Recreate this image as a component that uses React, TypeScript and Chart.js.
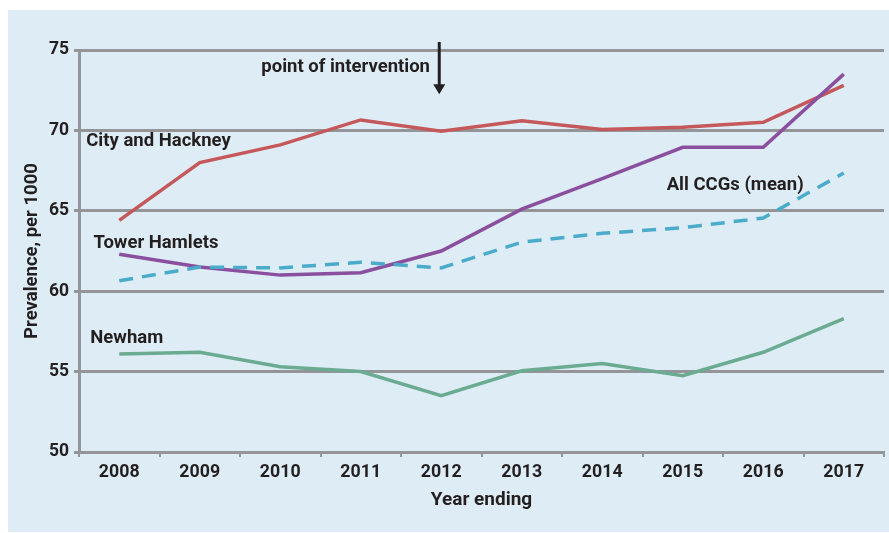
import React, { useEffect, useRef } from "react";
import { Chart, registerables } from "chart.js";

Chart.register(...registerables);

const years = ["2008", "2009", "2010", "2011", "2012", "2013", "2014", "2015", "2016", "2017"];
const cityHackney = [64.4, 68.0, 69.1, 70.65, 69.95, 70.6, 70.05, 70.2, 70.5, 72.8];
const towerHamlets = [62.3, 61.5, 61.0, 61.15, 62.5, 65.1, 67.0, 68.95, 68.95, 73.5];
const allCCGs = [60.65, 61.5, 61.45, 61.8, 61.45, 63.05, 63.6, 63.95, 64.55, 67.35];
const newham = [56.1, 56.2, 55.3, 55.0, 53.5, 55.05, 55.5, 54.75, 56.2, 58.3];

const yMin = 50;
const yMax = 75;
const yStep = 5;

const TEXT = "#231f20";
const GRID = "#939598";
const FONT = "Roboto";

const seriesLabels = ["City and Hackney", "Tower Hamlets", "All CCGs (mean)", "Newham"];
const interventionText = "point of intervention";
const interventionIndex = 4;

// annotation anchors in data coordinates (category index, value)
const labelAnchors = [
  { text: seriesLabels[0], x: -0.41, y: 69.3, align: "left" },
  { text: seriesLabels[1], x: -0.32, y: 63.0, align: "left" },
  { text: seriesLabels[3], x: -0.36, y: 57.05, align: "left" },
  { text: seriesLabels[2], x: 6.8, y: 66.6, align: "left" },
  { text: interventionText, x: 3.86, y: 73.9, align: "right" },
];
const arrowFrom = 75.5;
const arrowTo = 72.25;

const annotationPlugin = {
  id: "annotations",
  afterDatasetsDraw(chart: any) {
    const { ctx, scales } = chart;
    const xs = scales.x;
    const ys = scales.y;
    ctx.save();
    ctx.fillStyle = TEXT;
    ctx.font = `bold 18.5px ${FONT}`;
    ctx.textBaseline = "middle";
    labelAnchors.forEach((l) => {
      ctx.textAlign = l.align as CanvasTextAlign;
      ctx.fillText(l.text, xs.getPixelForValue(l.x), ys.getPixelForValue(l.y));
    });
    const ax = xs.getPixelForValue(interventionIndex) - 2;
    const y0 = ys.getPixelForValue(arrowFrom);
    const y1 = ys.getPixelForValue(arrowTo);
    ctx.strokeStyle = TEXT;
    ctx.lineWidth = 3;
    ctx.beginPath();
    ctx.moveTo(ax, y0);
    ctx.lineTo(ax, y1 - 8);
    ctx.stroke();
    ctx.beginPath();
    ctx.moveTo(ax - 6, y1 - 10);
    ctx.lineTo(ax + 6, y1 - 10);
    ctx.lineTo(ax, y1);
    ctx.closePath();
    ctx.fill();
    ctx.restore();
  },
};

export default function App() {
  const ref = useRef<HTMLCanvasElement | null>(null);
  useEffect(() => {
    document.documentElement.style.overflow = "hidden";
    const canvas = ref.current;
    if (!canvas) return;
    const chart = new Chart(canvas, {
      type: "line",
      data: {
        labels: years,
        datasets: [
          {
            label: seriesLabels[2],
            data: allCCGs,
            borderColor: "#4aabcb",
            borderWidth: 3.5,
            borderDash: [14, 9],
            pointRadius: 0,
            tension: 0,
          },
          {
            label: seriesLabels[1],
            data: towerHamlets,
            borderColor: "#8a4f9e",
            borderWidth: 3.5,
            pointRadius: 0,
            tension: 0,
          },
          {
            label: seriesLabels[0],
            data: cityHackney,
            borderColor: "#c4585a",
            borderWidth: 3.5,
            pointRadius: 0,
            tension: 0,
          },
          {
            label: seriesLabels[3],
            data: newham,
            borderColor: "#6aab92",
            borderWidth: 3.5,
            pointRadius: 0,
            tension: 0,
          },
        ],
      },
      options: {
        responsive: false,
        animation: false,
        layout: { padding: { top: 40, right: 5, left: 0, bottom: 0 } },
        plugins: {
          legend: { display: false },
          tooltip: { enabled: false },
        },
        scales: {
          x: {
            type: "category",
            offset: true,
            grid: {
              offset: true,
              drawOnChartArea: false,
              drawTicks: true,
              tickLength: 5,
              color: GRID,
              lineWidth: 2,
            },
            border: { display: true, color: GRID, width: 3 },
            ticks: {
              color: TEXT,
              font: { family: FONT, size: 17.8, weight: "bold" },
              padding: 5,
              maxRotation: 0,
            },
            title: {
              display: true,
              text: "Year ending",
              color: TEXT,
              font: { family: FONT, size: 19, weight: "bold" },
              padding: { top: 0, bottom: 20 },
            },
            afterFit(scale: any) {
              scale.height = 80;
            },
          },
          y: {
            min: yMin,
            max: yMax,
            ticks: {
              stepSize: yStep,
              color: TEXT,
              font: { family: FONT, size: 17.5, weight: "bold" },
              padding: 5,
            },
            grid: {
              color: GRID,
              lineWidth: 3,
              tickLength: 5,
              drawTicks: true,
            },
            border: { display: true, color: GRID, width: 3 },
            title: {
              display: true,
              text: "Prevalence, per 1000",
              color: TEXT,
              font: { family: FONT, size: 18.5, weight: "bold" },
              padding: { top: 13, bottom: 0 },
            },
            afterFit(scale: any) {
              scale.width = 71;
            },
          },
        },
      },
      plugins: [annotationPlugin],
    });
    return () => chart.destroy();
  }, []);

  return (
    <div
      style={{
        position: "absolute",
        left: 8,
        top: 10,
        width: 881,
        height: 522,
        background: "#deedf5",
      }}
    >
      <canvas ref={ref} width={881} height={522} style={{ display: "block" }} />
    </div>
  );
}
